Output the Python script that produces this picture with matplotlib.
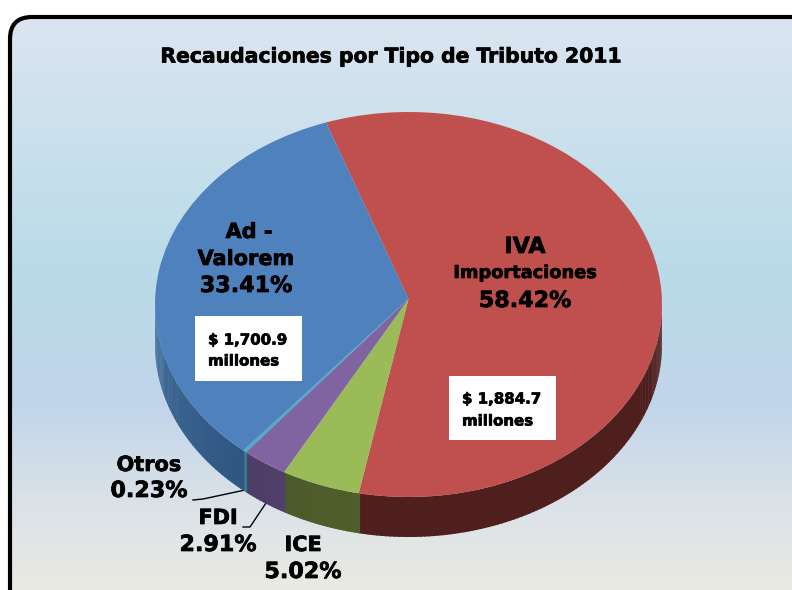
import matplotlib
matplotlib.use("Agg")
import matplotlib.pyplot as plt
from matplotlib import patches
import matplotlib.patheffects as pe
from matplotlib.colors import LinearSegmentedColormap, to_rgb
import numpy as np

plt.rcParams['font.family'] = ['DejaVu Sans']

## Data
names = ['IVA', 'ICE', 'FDI', 'Otros', 'Ad - Valorem']
shares = [58.42, 5.02, 2.91, 0.23, 33.41]
top_colors = ['#c0504d', '#9bbb59', '#8064a2', '#4bacc6', '#4f81bd']
side_colors = [('#4f1f1e', '#4f1f1e'), ('#4f5f2b', '#4b5a2a'), ('#50406a', '#4c3d66'),
               ('#2f7f92', '#2f7f92'), ('#2f5580', '#46719f')]
title = 'Recaudaciones por Tipo de Tributo 2011'

W, H = 792, 590
fig = plt.figure(figsize=(W/100, H/100), dpi=100, facecolor='white')

## Background panel in pixel coordinates
bg = fig.add_axes([0, 0, 1, 1], frameon=False)
bg.set_xlim(0, W)
bg.set_ylim(H, 0)
bg.set_xticks([])
bg.set_yticks([])

cmap = LinearSegmentedColormap.from_list('panel', [
    (0.0, '#dbe5f1'), (0.44, '#b9dbe8'), (0.68, '#c2d5eb'), (0.84, '#d9e1e8'), (1.0, '#eaeae3')])
grad = np.linspace(0, 1, 300).reshape(-1, 1)
panel = patches.FancyBboxPatch((10, 17), 900, 700, boxstyle='round,pad=0,rounding_size=22',
                               linewidth=3.0, edgecolor='black', facecolor='none', zorder=3)
bg.add_patch(panel)
im = bg.imshow(grad, cmap=cmap, extent=(10, 900, 590, 17), aspect='auto', zorder=1)
im.set_clip_path(panel)
bg.set_xlim(0, W)
bg.set_ylim(H, 0)

## Pie: tilted by giving the axes a squashed box
cx, cy, rx, ry, depth = 408.5, 304.5, 253.5, 192.5, 40
pie_ax = fig.add_axes([(cx-rx)/W, 1-(cy+ry)/H, 2*rx/W, 2*ry/H], frameon=False)
start = 109
wedges = pie_ax.pie(shares, colors=top_colors, startangle=start, counterclock=False, radius=1,
                    wedgeprops={'linewidth': 0}, frame=False)[0]
pie_ax.set_aspect('auto')
pie_ax.set_xlim(-1, 1)
pie_ax.set_ylim(-1, 1)
pie_ax.set_xticks([])
pie_ax.set_yticks([])

## Perspective: the tip of the slices sits a little above the middle of the ellipse
for w in wedges:
    v = w.get_path().vertices
    v[np.hypot(v[:, 0], v[:, 1]) < 1e-6, 1] += 5.5/ry

## Side wall of the pie, front half only
d = depth/ry
a = start
for share, (c0, c1) in zip(shares, side_colors):
    a0, a1 = a - share*3.6, a
    a = a0
    for lo, hi in [(a0, a1), (a0+360, a1+360), (a0-360, a1-360)]:
        lo, hi = max(lo, 180), min(hi, 360)
        if hi <= lo:
            continue
        edges = np.linspace(lo, hi, max(2, int(hi-lo)+2))
        for i in range(len(edges)-1):
            t = np.radians(np.linspace(edges[i], edges[i+1]+0.3, 6))
            x, y = np.cos(t), np.sin(t)
            f = (i+0.5)/(len(edges)-1)
            col = (1-f)*np.array(to_rgb(c1)) + f*np.array(to_rgb(c0))
            pie_ax.fill(np.r_[x, x[::-1]], np.r_[y, y[::-1]-d], color=col, lw=0,
                        clip_on=False, zorder=0)

## Boxes with the amounts
for x, y, w, h in [(195, 316, 107, 65), (449, 376, 107, 64)]:
    box = patches.Rectangle((x/W, 1-(y+h)/H), w/W, h/H, transform=fig.transFigure,
                            facecolor='white', edgecolor='none', zorder=5)
    fig.add_artist(box)

def label(x, y, s, size, ha='center'):
    t = fig.text(x/W, 1-y/H, s, fontsize=size, fontweight='bold', ha=ha, va='center',
                 color='black', zorder=10)
    t.set_path_effects([pe.withStroke(linewidth=0.5, foreground='black')])

label(392, 57, title, 14.65)
label(249, 232, 'Ad -', 15)
label(246, 259, 'Valorem', 15)
label(246, 286, '33.41%', 16)
label(525, 247, 'IVA', 16)
label(525, 273, 'Importaciones', 12.8)
label(525, 301, '58.42%', 16)
label(208, 340, '$ 1,700.9', 10.8, ha='left')
label(208, 361, 'millones', 10.8, ha='left')
label(462, 399, '$ 1,884.7', 10.8, ha='left')
label(462, 421, 'millones', 10.8, ha='left')
label(149, 465, 'Otros', 15)
label(149, 491, '0.23%', 16)
label(218, 518, 'FDI', 15)
label(218, 545, '2.91%', 16)
label(303, 545, 'ICE', 15)
label(303, 572, '5.02%', 16)

## Leader lines
bg.plot([193, 203, 245], [500, 499, 490], color='black', lw=1, zorder=6)
bg.plot([243, 250, 266], [527, 527, 503], color='black', lw=1, zorder=6)
bg.set_xlim(0, W)
bg.set_ylim(H, 0)

fig.savefig('out.png', dpi=100)
